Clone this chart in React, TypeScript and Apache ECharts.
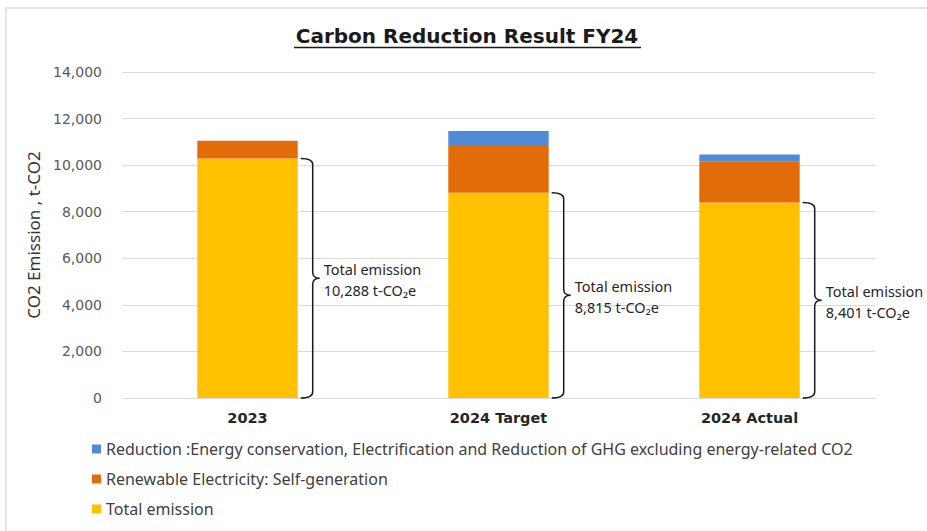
import React, { useEffect, useRef } from "react";
import * as echarts from "echarts";

const categories = ["2023", "2024 Target", "2024 Actual"];
const totalEmission = [10288, 8815, 8401];
const renewableSelfGen = [760, 2010, 1770];
const reductionOther = [0, 640, 290];
const yTicks = { min: 0, max: 14000, interval: 2000 };
const legendNames = [
  "Reduction :Energy conservation, Electrification and Reduction of GHG excluding energy-related CO2",
  "Renewable Electricity: Self-generation",
  "Total emission",
];
const annotationTitle = "Total emission";
const unitLabel = "t-CO\u2082e";

export default function App() {
  const ref = useRef<HTMLDivElement>(null);
  useEffect(() => {
    document.body.style.margin = "0";
    const chart = echarts.init(ref.current!, null, { renderer: "svg" });
    const barWidthRatio = 0.4;
    const option: any = {
      animation: false,
      backgroundColor: "#ffffff",
      graphic: [
        {
          type: "rect",
          shape: { x: 6, y: 8, width: 940, height: 540 },
          style: { fill: "none", stroke: "#dcdcdc", lineWidth: 1.5 },
          silent: true,
        },
        {
          type: "text",
          x: 467,
          y: 36,
          style: {
            text: "Carbon Reduction Result FY24",
            font: "bold 20px 'DejaVu Sans'",
            fill: "#1a1a1a",
            textAlign: "center",
            textVerticalAlign: "middle",
          },
        },
        {
          type: "line",
          shape: { x1: 294, y1: 47.5, x2: 641, y2: 47.5 },
          style: { stroke: "#1a1a1a", lineWidth: 1.5 },
        },
      ],
      grid: { left: 122, right: 52, top: 72, bottom: 133, containLabel: false },
      legend: {
        orient: "vertical",
        left: 87,
        top: 436,
        itemWidth: 9,
        itemHeight: 9,
        itemGap: 14,
        icon: "rect",
        selectedMode: false,
        data: legendNames,
        textStyle: {
          fontFamily: "'Noto Sans'",
          fontSize: 16,
          lineHeight: 16,
          color: "#404040",
        },
      },
      xAxis: {
        type: "category",
        data: categories,
        axisLine: { show: true, lineStyle: { color: "#d9d9d9", width: 1 } },
        axisTick: { show: false },
        axisLabel: {
          margin: 12,
          fontFamily: "'DejaVu Sans'",
          fontWeight: "bold",
          fontSize: 14.5,
          color: "#262626",
        },
      },
      yAxis: {
        type: "value",
        min: yTicks.min,
        max: yTicks.max,
        interval: yTicks.interval,
        name: "CO2 Emission , t-CO2",
        nameLocation: "middle",
        nameGap: 71,
        nameTextStyle: { fontFamily: "'Noto Sans'", fontSize: 17, color: "#333333" },
        axisLine: { show: false },
        axisTick: { show: false },
        splitLine: { lineStyle: { color: "#d9d9d9", width: 1 } },
        axisLabel: {
          margin: 20,
          fontFamily: "'DejaVu Sans'",
          fontSize: 14,
          color: "#595959",
          formatter: (v: number) => v.toLocaleString("en-US"),
        },
      },
      series: [
        {
          name: legendNames[2],
          type: "bar",
          stack: "total",
          barWidth: "40%",
          data: totalEmission,
          itemStyle: { color: "#FFC000" },
        },
        {
          name: legendNames[1],
          type: "bar",
          stack: "total",
          barWidth: "40%",
          data: renewableSelfGen,
          itemStyle: { color: "#E36C0A" },
        },
        {
          name: legendNames[0],
          type: "bar",
          stack: "total",
          barWidth: "40%",
          data: reductionOther,
          itemStyle: { color: "#4F8BD6" },
        },
        {
          type: "custom",
          name: "brace",
          data: totalEmission.map((v, i) => [i, v]),
          encode: { x: 0, y: 1 },
          z: 10,
          silent: true,
          renderItem: (params: any, api: any) => {
            const idx = api.value(0);
            const v = api.value(1);
            const top = api.coord([idx, v]);
            const bot = api.coord([idx, 0]);
            const bw = api.size([1, 0])[0] * barWidthRatio;
            const right = top[0] + bw / 2;
            const x0 = right + 3;
            const x1 = right + 15;
            const x2 = right + 22;
            const t = top[1];
            const b = bot[1];
            const m = (t + b) / 2;
            const r = 6;
            const d =
              `M${x0},${t} Q${x1},${t} ${x1},${t + r} L${x1},${m - r} Q${x1},${m} ${x2},${m} ` +
              `Q${x1},${m} ${x1},${m + r} L${x1},${b - r} Q${x1},${b} ${x0},${b}`;
            return {
              type: "group",
              children: [
                {
                  type: "path",
                  shape: { pathData: d },
                  style: { fill: "none", stroke: "#1a1a1a", lineWidth: 1.5 },
                },
                {
                  type: "text",
                  x: x2 + 4,
                  y: m + 1,
                  style: {
                    text: `${annotationTitle}\n${v.toLocaleString("en-US")} ${unitLabel}`,
                    font: "14.5px 'Noto Sans'",
                    lineHeight: 21,
                    fill: "#262626",
                    textAlign: "left",
                    textVerticalAlign: "middle",
                  },
                },
              ],
            };
          },
        },
      ],
    };
    chart.setOption(option);
    return () => chart.dispose();
  }, []);
  return <div ref={ref} style={{ width: 927, height: 531 }} />;
}
